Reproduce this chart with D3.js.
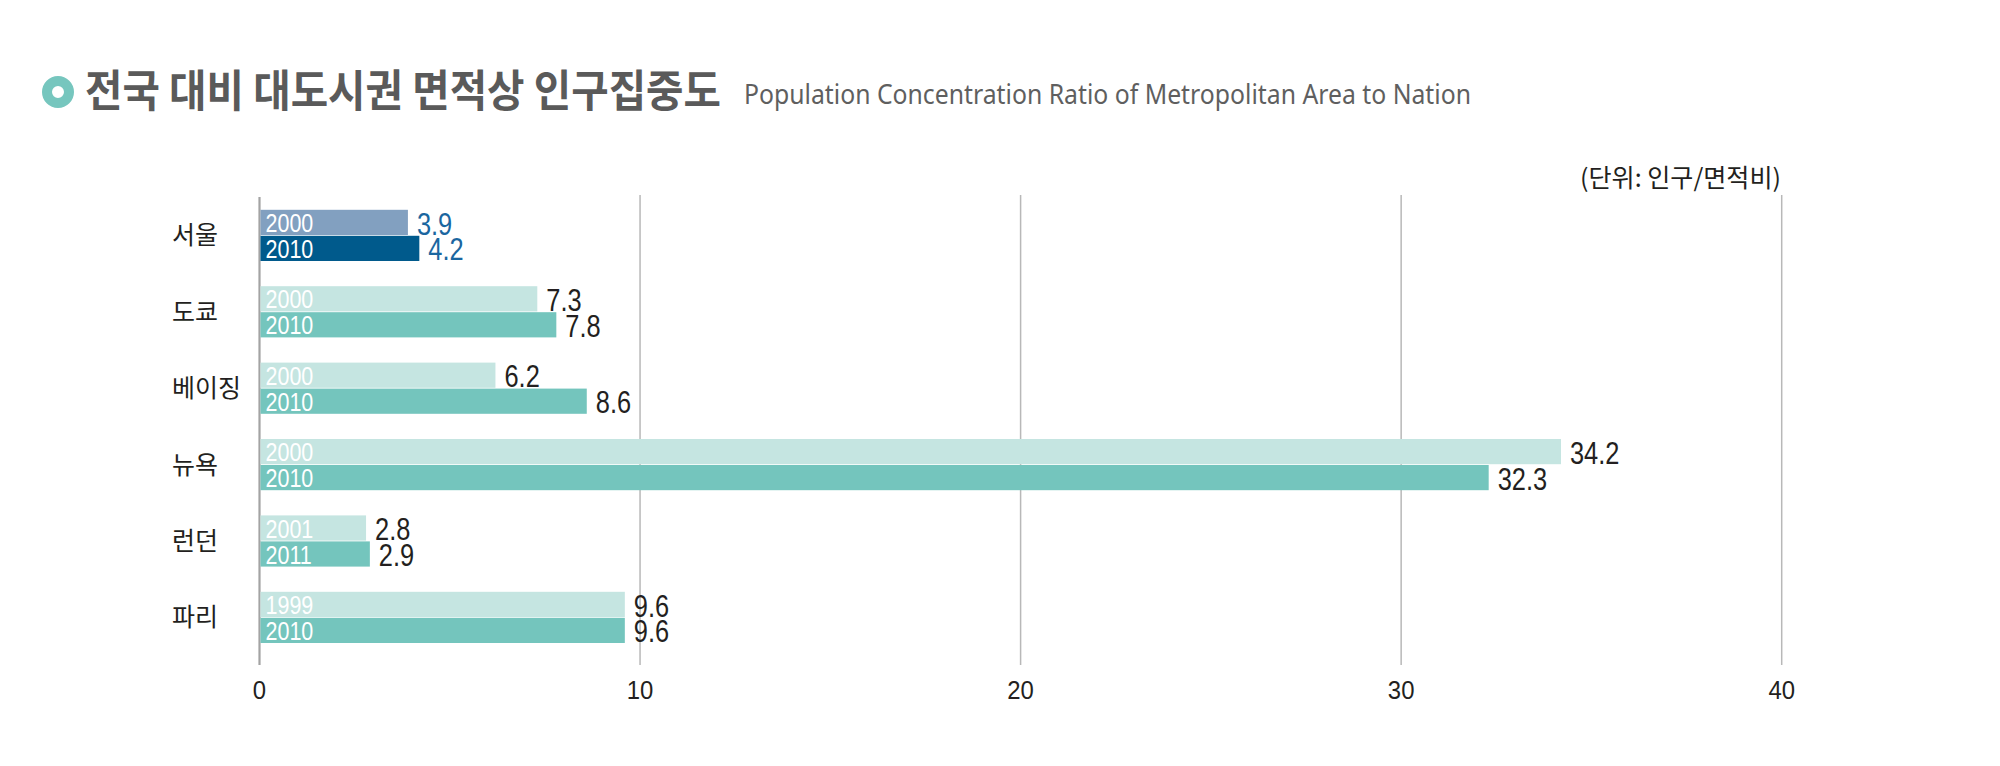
<!DOCTYPE html>
<html>
<head>
<meta charset="utf-8">
<script src="https://cdn.jsdelivr.net/npm/d3@7"></script>
<style>
html,body{margin:0;padding:0;background:#fff;}
svg{display:block;}
</style>
</head>
<body>
<svg id="chart" width="2000" height="766"></svg>
<script>
const categories = ["서울", "도쿄", "베이징", "뉴욕", "런던", "파리"];
const earlyYears = ["2000", "2000", "2000", "2000", "2001", "1999"];
const lateYears  = ["2010", "2010", "2010", "2010", "2011", "2010"];
const earlyValues = [3.9, 7.3, 6.2, 34.2, 2.8, 9.6];
const lateValues  = [4.2, 7.8, 8.6, 32.3, 2.9, 9.6];
const xTicks = [0, 10, 20, 30, 40];

const titleText = "전국 대비 대도시권 면적상 인구집중도";
const subtitleText = "Population Concentration Ratio of Metropolitan Area to Nation";
const unitText = "(단위: 인구/면적비)";

const svg = d3.select("#chart");
const sans = "'Liberation Sans',Arial,sans-serif";
const kr = "'Noto Sans CJK KR','Noto Sans',sans-serif";

const x = d3.scaleLinear().domain([0, 40]).range([259.5, 1781.7]);
const y = d3.scaleBand().domain(categories).range([197.2, 655.6]).paddingInner(0.33).paddingOuter(0.165);
const sub = d3.scaleBand().domain([0, 1]).range([0, y.bandwidth()]).paddingInner(0.03);

// Title
svg.append("circle").attr("cx", 58).attr("cy", 92).attr("r", 11)
  .attr("fill", "none").attr("stroke", "#76c6be").attr("stroke-width", 10);
svg.append("text").attr("x", 85).attr("y", 107)
  .attr("font-family", kr).attr("font-weight", 700).attr("font-size", 44)
  .attr("fill", "#5a5a5a").attr("textLength", 636).attr("lengthAdjust", "spacingAndGlyphs")
  .text(titleText);
svg.append("text").attr("x", 744).attr("y", 104)
  .attr("font-family", "'Noto Sans',sans-serif").attr("font-weight", 400).attr("font-size", 28)
  .attr("fill", "#5f5f5f").attr("textLength", 727).attr("lengthAdjust", "spacingAndGlyphs")
  .text(subtitleText);

// Unit
svg.append("text").attr("x", 1580).attr("y", 187)
  .attr("font-family", kr).attr("font-size", 25).attr("fill", "#231f20")
  .attr("textLength", 201).attr("lengthAdjust", "spacingAndGlyphs")
  .text(unitText);

// Gridlines
const grid = svg.append("g");
grid.selectAll("line").data(xTicks).join("line")
  .attr("x1", d => x(d)).attr("x2", d => x(d))
  .attr("y1", d => d === 0 ? 197 : 195).attr("y2", 665)
  .attr("stroke", d => d === 0 ? "#a3a3a3" : "#b8b8b8")
  .attr("stroke-width", d => d === 0 ? 2.2 : 1.5);

// Tick labels
svg.append("g").selectAll("text").data(xTicks).join("text")
  .attr("transform", d => `translate(${x(d)},699) scale(0.92,1)`)
  .attr("text-anchor", "middle")
  .attr("font-family", sans).attr("font-size", 26)
  .attr("fill", "#231f20").text(d => d);

// Category labels
svg.append("g").selectAll("text").data(categories).join("text")
  .attr("x", 172).attr("y", d => y(d) + y.bandwidth() / 2 + 9)
  .attr("font-family", kr).attr("font-size", 25).attr("fill", "#231f20")
  .text(d => d);

const rows = categories.map((c, i) => [
  {cat: c, k: 0, year: earlyYears[i], v: earlyValues[i], i},
  {cat: c, k: 1, year: lateYears[i], v: lateValues[i], i}
]).flat();

const fillColor = d => d.i === 0 ? (d.k === 0 ? "#82a0c0" : "#005a8c") : (d.k === 0 ? "#c5e5e1" : "#74c5bd");

const bars = svg.append("g");
bars.selectAll("rect").data(rows).join("rect")
  .attr("x", x(0) + 1).attr("y", d => y(d.cat) + sub(d.k))
  .attr("width", d => x(d.v) - x(0) - 1).attr("height", sub.bandwidth())
  .attr("fill", fillColor);

// Year labels inside bars
svg.append("g").selectAll("text").data(rows).join("text")
  .attr("transform", d => `translate(${x(0) + 6},${y(d.cat) + sub(d.k) + sub.bandwidth() - 3}) scale(0.86,1)`)
  .attr("font-family", sans).attr("font-size", 25).attr("fill", "#ffffff")
  .text(d => d.year);

// Value labels
svg.append("g").selectAll("text").data(rows).join("text")
  .attr("transform", d => `translate(${x(d.v) + 9},${y(d.cat) + sub(d.k) + sub.bandwidth() - 0.5}) scale(0.82,1)`)
  .attr("font-family", sans).attr("font-size", 31)
  .attr("fill", d => d.i === 0 ? "#1a66a0" : "#231f20")
  .text(d => d3.format(".1f")(d.v));
</script>
</body>
</html>
